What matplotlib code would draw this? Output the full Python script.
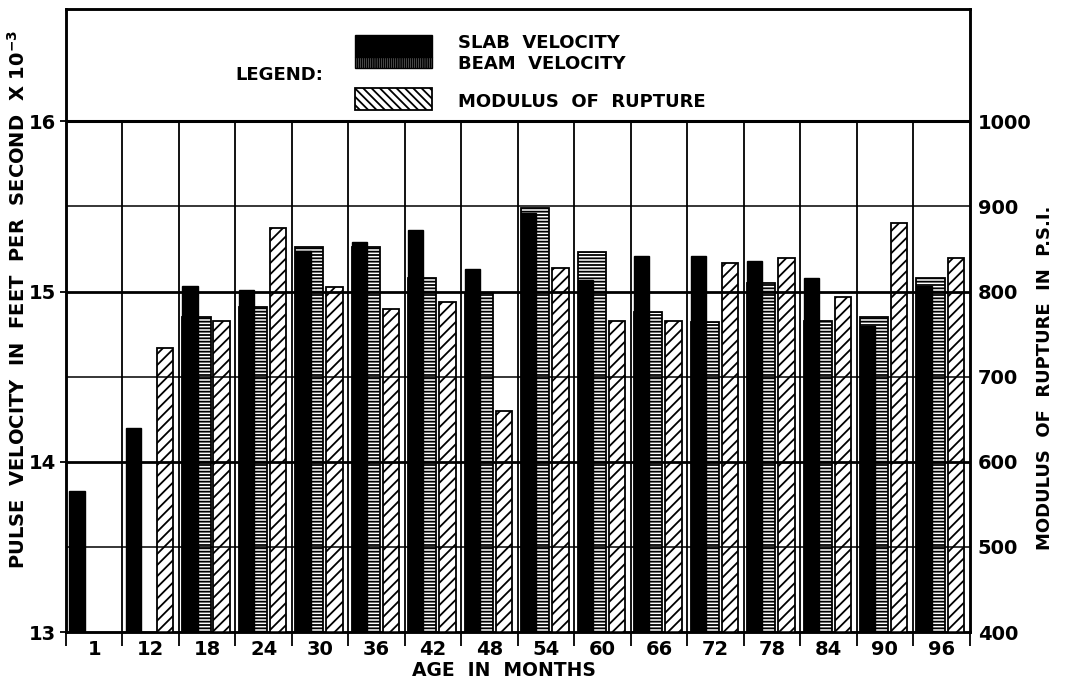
import numpy as np
import matplotlib
matplotlib.use('Agg')
import matplotlib.pyplot as plt
from matplotlib.patches import Rectangle

# ages in months and readings (velocity in ft/s x 10^-3, modulus in psi)
ages = ['1', '12', '18', '24', '30', '36', '42', '48',
        '54', '60', '66', '72', '78', '84', '90', '96']
slab_vel = [13.83, 14.20, 15.03, 15.01, 15.24, 15.29, 15.36, 15.13,
            15.46, 15.07, 15.21, 15.21, 15.18, 15.08, 14.80, 15.03]
beam_vel = [None, None, 14.85, 14.91, 15.26, 15.26, 15.08, 14.99,
            15.49, 15.23, 14.88, 14.82, 15.05, 14.83, 14.85, 15.08]
modulus = [None, 734, 765, 875, 805, 779, 788, 660,
           828, 765, 765, 834, 840, 794, 880, 840]

plt.rcParams['font.family'] = 'DejaVu Sans'
plt.rcParams['font.weight'] = 'bold'
plt.rcParams['hatch.linewidth'] = 1.3

fig = plt.figure(figsize=(10.69, 6.82), dpi=100)
ax = fig.add_axes([0.0617, 0.0733, 0.8453, 0.9135])
ax2 = ax.twinx()

n = len(ages)
idx = np.arange(n)

# beam bars sit behind the slab bars, slab drawn on top
bi = [i for i in idx if beam_vel[i] is not None]
ax.bar([i + 0.06 for i in bi], [beam_vel[i] for i in bi], width=0.50, align='edge',
       color='white', edgecolor='black', hatch='-----', linewidth=1.3, zorder=2)
ax.bar(idx + 0.06, slab_vel, width=0.27, align='edge',
       color='black', edgecolor='black', linewidth=1.0, zorder=3)

mi = [i for i in idx if modulus[i] is not None]
ax2.bar([i + 0.61 for i in mi], [modulus[i] for i in mi], width=0.29, align='edge',
        color='white', edgecolor='black', hatch='///', linewidth=1.3, zorder=2)

ax.set_xlim(0, n)
ax.set_ylim(13, 16.66)
ax2.set_ylim(400, 1132)

# grid drawn over the bars, only below the legend area
for v, lw in [(500, 1.1), (600, 2.0), (700, 1.1), (800, 2.0), (900, 1.1), (1000, 2.2)]:
    ax2.axhline(v, color='black', linewidth=lw, zorder=5)
ax2.vlines(np.arange(1, n), 400, 1000, color='black', linewidth=1.3, zorder=5)

# ticks
ax.set_xticks(idx + 0.5)
ax.set_xticklabels(ages, fontsize=14, fontweight='bold')
ax.set_xticks(np.arange(0, n + 1), minor=True)
ax.tick_params(axis='x', which='major', length=0, pad=6)
ax.tick_params(axis='x', which='minor', length=10, width=1.3, direction='out')

ax.set_yticks([13, 14, 15, 16])
ax.set_yticklabels(['13', '14', '15', '16'], fontsize=14, fontweight='bold')
ax.tick_params(axis='y', length=4, width=1.3, pad=3)

ax2.set_yticks([400, 500, 600, 700, 800, 900, 1000])
ax2.set_yticklabels(['400', '500', '600', '700', '800', '900', '1000'],
                    fontsize=14, fontweight='bold')
ax2.tick_params(axis='y', length=0, pad=6)

for a in (ax, ax2):
    for s in a.spines.values():
        s.set_linewidth(1.8)

ax.set_xlabel('AGE  IN  MONTHS', fontsize=13.5, fontweight='bold')
ax.xaxis.set_label_coords(0.485, -0.047)
ax.set_ylabel('PULSE  VELOCITY  IN  FEET  PER  SECOND  X 10$^{-3}$', fontsize=14,
              fontweight='bold')
ax.yaxis.set_label_coords(-0.041, 0.533)
ax2.set_ylabel('MODULUS  OF  RUPTURE  IN  P.S.I.', fontsize=13, fontweight='bold')
ax2.yaxis.set_label_coords(1.074, 0.408)

# hand drawn legend in the top band
tr = ax2.transAxes
ax2.add_patch(Rectangle((0.320, 0.923), 0.085, 0.035, transform=tr,
                        facecolor='black', edgecolor='black', zorder=6, clip_on=False))
ax2.add_patch(Rectangle((0.320, 0.905), 0.085, 0.018, transform=tr,
                        facecolor='white', edgecolor='black', hatch='||||||||',
                        linewidth=1.0, zorder=6, clip_on=False))
ax2.add_patch(Rectangle((0.320, 0.838), 0.085, 0.035, transform=tr,
                        facecolor='white', edgecolor='black', hatch='\\\\\\\\',
                        linewidth=1.3, zorder=6, clip_on=False))
ax2.text(0.187, 0.894, 'LEGEND:', transform=tr, fontsize=13, fontweight='bold',
         va='center', ha='left')
ax2.text(0.434, 0.945, 'SLAB  VELOCITY', transform=tr, fontsize=13, fontweight='bold',
         va='center', ha='left')
ax2.text(0.434, 0.912, 'BEAM  VELOCITY', transform=tr, fontsize=13, fontweight='bold',
         va='center', ha='left')
ax2.text(0.434, 0.851, 'MODULUS  OF  RUPTURE', transform=tr, fontsize=13,
         fontweight='bold', va='center', ha='left')

fig.savefig('out.png', dpi=100)
